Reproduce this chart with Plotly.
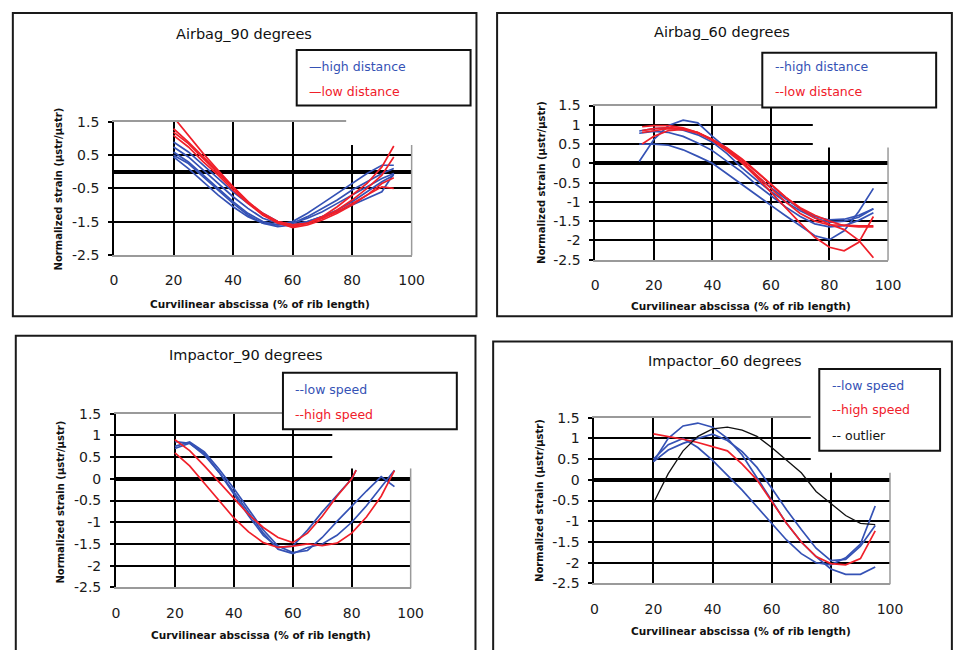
import plotly.graph_objects as go

W, H = 958, 650
FONT = "DejaVu Sans"

# ---------------- text / ticks ----------------
panel_titles = ["Airbag_90 degrees", "Airbag_60 degrees",
                "Impactor_90 degrees", "Impactor_60 degrees"]
x_title = "Curvilinear abscissa (% of rib length)"
y_title = "Normalized strain (µstr/µstr)"
x_tickvals = [0, 20, 40, 60, 80, 100]
x_ticktext = ["0", "20", "40", "60", "80", "100"]
y_tickvals_coarse = [-2.5, -1.5, -0.5, 0.5, 1.5]
y_ticktext_coarse = ["-2.5", "-1.5", "-0.5", "0.5", "1.5"]
y_tickvals_fine = [-2.5, -2, -1.5, -1, -0.5, 0, 0.5, 1, 1.5]
y_ticktext_fine = ["-2.5", "-2", "-1.5", "-1", "-0.5", "0", "0.5", "1", "1.5"]

legend_tl = ["—high distance", "—low distance"]
legend_tr = ["--high distance", "--low distance"]
legend_bl = ["--low speed", "--high speed"]
legend_br = ["--low speed", "--high speed", "-- outlier"]

# ---------------- data: Airbag_90 ----------------
tl_x = [20, 25, 30, 35, 40, 45, 50, 55, 60, 65, 70, 75, 80, 85, 90, 94]
tl_blue_1 = [0.45, 0.10, -0.30, -0.70, -1.05, -1.35, -1.55, -1.60, -1.50, -1.25, -0.95, -0.65, -0.35, -0.05, 0.20, 0.20]
tl_blue_2 = [0.60, 0.30, -0.10, -0.50, -0.90, -1.25, -1.50, -1.60, -1.55, -1.35, -1.10, -0.85, -0.55, -0.30, -0.05, 0.10]
tl_blue_3 = [0.75, 0.45, 0.05, -0.35, -0.75, -1.10, -1.40, -1.55, -1.55, -1.40, -1.20, -0.95, -0.70, -0.45, -0.20, -0.05]
tl_blue_4 = [0.90, 0.60, 0.20, -0.20, -0.60, -0.95, -1.25, -1.50, -1.60, -1.50, -1.35, -1.15, -0.90, -0.60, -0.30, -0.10]
tl_blue_5 = [0.50, 0.25, -0.15, -0.55, -0.95, -1.30, -1.55, -1.65, -1.60, -1.50, -1.35, -1.20, -1.00, -0.80, -0.60, -0.05]
tl_red_1 = [1.65, 1.10, 0.55, 0.05, -0.45, -0.90, -1.30, -1.55, -1.65, -1.55, -1.35, -1.05, -0.70, -0.35, 0.15, 0.78]
tl_red_2 = [1.30, 0.90, 0.45, 0.00, -0.45, -0.90, -1.25, -1.50, -1.60, -1.55, -1.40, -1.15, -0.85, -0.50, -0.10, 0.45]
tl_red_3 = [1.10, 0.75, 0.30, -0.10, -0.55, -0.95, -1.30, -1.50, -1.60, -1.55, -1.40, -1.20, -0.95, -0.70, -0.45, -0.50]
tl_red_4 = [1.20, 0.85, 0.40, -0.05, -0.50, -0.92, -1.28, -1.52, -1.68, -1.60, -1.45, -1.25, -1.00, -0.70, -0.35, -0.18]

# ---------------- data: Airbag_60 ----------------
tr_x_blue = [15, 20, 25, 30, 35, 40, 45, 50, 55, 60, 65, 70, 75, 80, 85, 90, 95]
tr_blue_1 = [0.05, 0.62, 0.98, 1.12, 1.05, 0.70, 0.38, 0.02, -0.32, -0.63, -0.92, -1.18, -1.38, -1.47, -1.45, -1.35, -1.18]
tr_blue_2 = [0.50, 0.50, 0.47, 0.35, 0.18, 0.00, -0.27, -0.55, -0.82, -1.09, -1.36, -1.63, -1.88, -1.98, -1.75, -1.25, -0.65]
tr_blue_3 = [0.78, 0.83, 0.80, 0.70, 0.53, 0.33, 0.05, -0.22, -0.55, -0.85, -1.13, -1.38, -1.57, -1.65, -1.62, -1.48, -1.28]
tr_blue_4 = [0.84, 0.90, 0.92, 0.86, 0.74, 0.55, 0.25, -0.11, -0.43, -0.73, -1.00, -1.23, -1.42, -1.53, -1.50, -1.40, -1.18]
tr_x_red = [16, 20, 25, 30, 35, 40, 45, 50, 55, 60, 65, 70, 75, 80, 85, 90, 95]
tr_red_1 = [0.95, 0.98, 0.98, 0.92, 0.80, 0.62, 0.38, 0.10, -0.22, -0.55, -0.88, -1.15, -1.35, -1.50, -1.62, -1.65, -1.65]
tr_red_2 = [0.85, 0.90, 0.93, 0.90, 0.80, 0.60, 0.32, 0.02, -0.35, -0.75, -1.15, -1.55, -1.92, -2.18, -2.27, -2.05, -1.38]
tr_red_3 = [0.50, 0.70, 0.85, 0.88, 0.80, 0.62, 0.40, 0.12, -0.20, -0.55, -0.88, -1.18, -1.42, -1.58, -1.72, -2.00, -2.45]
tr_red_4 = [0.80, 0.85, 0.90, 0.88, 0.78, 0.60, 0.35, 0.05, -0.30, -0.65, -1.00, -1.30, -1.50, -1.60, -1.60, -1.62, -1.62]

# ---------------- data: Impactor_90 ----------------
bl_x_short = [20, 25, 30, 35, 40, 45, 50, 55, 60, 65, 70, 75, 80, 81.5]
bl_x_long = [20, 25, 30, 35, 40, 45, 50, 55, 60, 65, 70, 75, 80, 85, 90, 94.5]
bl_blue_1 = [0.70, 0.82, 0.58, 0.15, -0.35, -0.85, -1.30, -1.58, -1.55, -1.18, -0.76, -0.38, 0.00, 0.20]
bl_blue_2 = [0.86, 0.82, 0.55, 0.15, -0.30, -0.78, -1.25, -1.62, -1.72, -1.58, -1.50, -1.30, -1.00, -0.62, -0.20, 0.20]
bl_blue_3 = [0.75, 0.85, 0.62, 0.22, -0.22, -0.70, -1.18, -1.55, -1.70, -1.65, -1.35, -0.98, -0.62, -0.28, 0.05, -0.18]
bl_red_1 = [0.90, 0.65, 0.30, -0.08, -0.45, -0.82, -1.12, -1.35, -1.47, -1.25, -0.86, -0.40, 0.00, 0.20]
bl_red_2 = [0.60, 0.30, -0.10, -0.50, -0.90, -1.22, -1.47, -1.58, -1.55, -1.50, -1.54, -1.48, -1.25, -0.88, -0.40, 0.19]

# ---------------- data: Impactor_60 ----------------
br_x = [20, 25, 30, 35, 40, 45, 50, 55, 60, 65, 70, 75, 80, 85, 90, 95]
br_blue_1 = [0.44, 1.00, 1.30, 1.37, 1.27, 1.00, 0.60, 0.05, -0.50, -1.05, -1.50, -1.85, -2.15, -2.28, -2.28, -2.10]
br_blue_2 = [0.44, 0.72, 0.88, 1.00, 1.10, 0.95, 0.68, 0.30, -0.20, -0.72, -1.20, -1.65, -1.95, -1.92, -1.60, -1.10]
br_blue_3 = [0.50, 0.85, 1.00, 0.78, 0.47, 0.12, -0.25, -0.65, -1.05, -1.45, -1.78, -2.00, -2.05, -1.88, -1.55, -0.63]
br_red_1 = [1.11, 1.05, 0.98, 0.90, 0.80, 0.70, 0.38, 0.00, -0.52, -1.05, -1.50, -1.85, -2.02, -2.05, -1.90, -1.23]
br_black_1 = [-0.56, 0.15, 0.70, 1.05, 1.23, 1.27, 1.20, 1.05, 0.78, 0.47, 0.17, -0.28, -0.58, -0.86, -1.05, -1.08]

BLUE = "#3552b5"
RED = "#f0202a"
BLACK = "#111111"

fig = go.Figure()


def add(x, y, color, ax, name, width=1.7):
    fig.add_trace(go.Scatter(x=x, y=y, mode="lines", name=name,
                             line=dict(color=color, width=width),
                             xaxis="x" + ax, yaxis="y" + ax,
                             showlegend=False, hoverinfo="skip"))


for y in [tl_blue_1, tl_blue_2, tl_blue_3, tl_blue_4, tl_blue_5]:
    add(tl_x, y, BLUE, "", "high distance")
for y in [tl_red_1, tl_red_2, tl_red_3, tl_red_4]:
    add(tl_x, y, RED, "", "low distance")
for y in [tr_blue_1, tr_blue_2, tr_blue_3, tr_blue_4]:
    add(tr_x_blue, y, BLUE, "2", "high distance")
for y in [tr_red_1, tr_red_2, tr_red_3, tr_red_4]:
    add(tr_x_red, y, RED, "2", "low distance")
add(bl_x_short, bl_blue_1, BLUE, "3", "low speed")
add(bl_x_long, bl_blue_2, BLUE, "3", "low speed")
add(bl_x_long, bl_blue_3, BLUE, "3", "low speed")
add(bl_x_short, bl_red_1, RED, "3", "high speed")
add(bl_x_long, bl_red_2, RED, "3", "high speed")
for y in [br_blue_1, br_blue_2, br_blue_3]:
    add(br_x, y, BLUE, "4", "low speed")
add(br_x, br_red_1, RED, "4", "high speed")
add(br_x, br_black_1, BLACK, "4", "outlier", width=1.3)


def fx(px):
    return px / W


def fy(py):
    return 1 - py / H


# plot areas in pixels: (left, right, top, bottom)
areas = {
    "": (112, 415, 117, 253),
    "2": (602, 900, 100, 258),
    "3": (114, 414, 416, 594),
    "4": (601, 902, 420, 590),
}
fine = {"": False, "2": True, "3": True, "4": True}

tickfont = dict(family=FONT, size=14, color="#1a1a1a")
for k, (l, r, t, b) in areas.items():
    fig.layout["xaxis" + k] = dict(
        domain=[fx(l), fx(r)], range=[0, 100], anchor="y" + k,
        tickmode="array", tickvals=x_tickvals, ticktext=x_ticktext,
        showgrid=True, gridcolor="black", gridwidth=2, zeroline=False,
        showline=True, linecolor="#9a9a9a", linewidth=1.5, mirror=True,
        ticks="", tickfont=tickfont, ticklabelstandoff=12, fixedrange=True)
    fig.layout["yaxis" + k] = dict(
        domain=[fy(b), fy(t)], range=[-2.5, 1.5], anchor="x" + k,
        tickmode="array",
        tickvals=y_tickvals_fine if fine[k] else y_tickvals_coarse,
        ticktext=y_ticktext_fine if fine[k] else y_ticktext_coarse,
        showgrid=True, gridcolor="black", gridwidth=2,
        zeroline=True, zerolinecolor="black", zerolinewidth=4,
        showline=True, linecolor="black", linewidth=1.8, mirror=False,
        ticks="outside", ticklen=4, tickcolor="black", tickwidth=1.5,
        tickfont=tickfont, ticklabelstandoff=6, fixedrange=True)

shapes = []
# blank (occluded) upper-right corner of each plot area: (x0 frac, y0 frac)
blank = {"": (0.78, 0.8275), "2": (0.743, 0.7275), "3": (0.734, 0.685), "4": (0.732, 0.6675)}
for k, (bx, by) in blank.items():
    shapes.append(dict(type="rect", xref="x%s domain" % k, yref="y%s domain" % k,
                       x0=bx, x1=1.04, y0=by, y1=1.06, fillcolor="white",
                       line=dict(width=0), layer="above"))
    shapes.append(dict(type="line", xref="x%s domain" % k, yref="y%s domain" % k,
                       x0=1, x1=1, y0=-0.005, y1=by, line=dict(color="#9a9a9a", width=1.5),
                       layer="above"))

# legend boxes (pixels)
leg_boxes = [(298, 475, 43, 100), (772, 949, 46, 102), (284, 461, 374, 432), (830, 953, 370, 454)]
for (l, r, t, b) in leg_boxes:
    shapes.append(dict(type="rect", xref="paper", yref="paper", x0=fx(l), x1=fx(r),
                       y0=fy(b), y1=fy(t), fillcolor="white",
                       line=dict(color="#111", width=2), layer="above"))

# panel frames (pixels)
frames = [(9, 481, 5, 316), (502, 965, 5, 316), (12, 480, 336, 660), (498, 965, 342, 660)]
for (l, r, t, b) in frames:
    shapes.append(dict(type="rect", xref="paper", yref="paper", x0=fx(l), x1=fx(r),
                       y0=fy(b), y1=fy(t), fillcolor="rgba(0,0,0,0)",
                       line=dict(color="#1a1a1a", width=2), layer="above"))

ann = []


def text(px, py, s, size=12, color="black", xanchor="center", angle=0):
    ann.append(dict(x=fx(px), y=fy(py), xref="paper", yref="paper", text=s,
                    showarrow=False, xanchor=xanchor, yanchor="middle",
                    textangle=angle, font=dict(family=FONT, size=size, color=color)))


# panel titles
for (px, py), s in zip([(244, 27), (731, 25), (246, 356), (734, 362)], panel_titles):
    text(px, py, s, size=14.5, color="#111")
# x titles
for (px, py) in [(261, 303), (750, 306), (262, 643), (750, 639)]:
    text(px, py, "<b>" + x_title + "</b>", size=10.5, color="#111")
# y titles
for (px, py) in [(55, 186), (547, 179), (58, 506), (545, 505)]:
    text(px, py, "<b>" + y_title + "</b>", size=10, color="#111", angle=-90)

# legend texts
for (px, py), s, c in zip([(308, 60), (308, 86)], legend_tl, [BLUE, RED]):
    text(px, py, s, size=12.5, color=c, xanchor="left")
for (px, py), s, c in zip([(783, 60), (783, 86)], legend_tr, [BLUE, RED]):
    text(px, py, s, size=12.5, color=c, xanchor="left")
for (px, py), s, c in zip([(294, 391), (294, 417)], legend_bl, [BLUE, RED]):
    text(px, py, s, size=12.5, color=c, xanchor="left")
for (px, py), s, c in zip([(841, 387), (841, 412), (841, 438)], legend_br, [BLUE, RED, "#111"]):
    text(px, py, s, size=12.5, color=c, xanchor="left")

fig.update_layout(width=W, height=H, margin=dict(l=0, r=0, t=0, b=0),
                  paper_bgcolor="white", plot_bgcolor="white",
                  shapes=shapes, annotations=ann, showlegend=False)

fig.write_html("out.html", include_plotlyjs=True, full_html=True,
               config={"displayModeBar": False},
               post_script="document.body.style.margin='0';document.body.style.overflow='hidden';")
